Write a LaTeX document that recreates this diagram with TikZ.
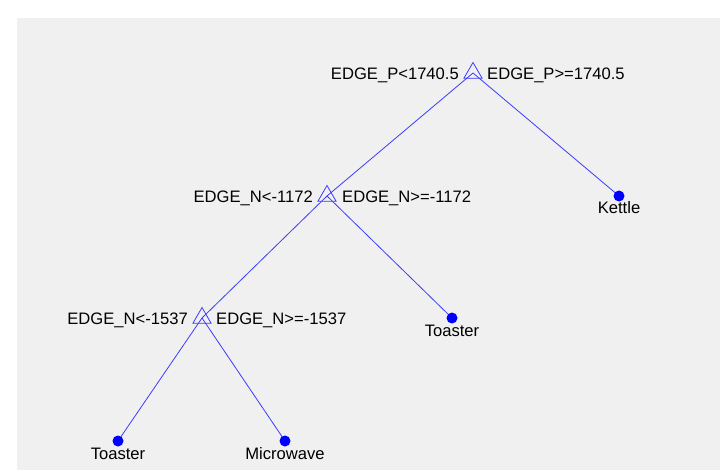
\documentclass[tikz,border=0pt]{standalone}
\usepackage{fontspec}
\setmainfont{Liberation Sans}
\usetikzlibrary{shapes.geometric}
\definecolor{figbg}{RGB}{240,240,240}
\definecolor{treeblue}{RGB}{60,60,255}
\tikzset{
  split/.style={draw=treeblue, line width=0.8pt, regular polygon, regular polygon sides=3,
                minimum size=21pt, inner sep=0pt},
  leaf/.style={circle, fill=blue, minimum size=11pt, inner sep=0pt},
  branch/.style={draw=treeblue, line width=0.8pt},
  rule/.style={font=\fontsize{16.6}{18}\selectfont, inner sep=0pt},
  leaflabel/.style={font=\fontsize{16.6}{18}\selectfont, inner sep=0pt, anchor=base}
}
\begin{document}
\begin{tikzpicture}[x=1pt,y=-1pt]
  \useasboundingbox (0,0) rectangle (720,470);
  \fill[figbg] (17,18) rectangle (720,470);

  % split points and leaves
  \coordinate (r) at (473,73);
  \coordinate (n1) at (327,196);
  \coordinate (n2) at (202,318);
  \coordinate (kettle) at (619,196);
  \coordinate (toaster1) at (452,318);
  \coordinate (toaster2) at (118,441);
  \coordinate (micro) at (285,441);

  % branches
  \draw[branch] (r) -- (n1);
  \draw[branch] (r) -- (kettle);
  \draw[branch] (n1) -- (n2);
  \draw[branch] (n1) -- (toaster1);
  \draw[branch] (n2) -- (toaster2);
  \draw[branch] (n2) -- (micro);

  % split markers
  \node[split] (rm) at (r) {};
  \node[split] (n1m) at (n1) {};
  \node[split] (n2m) at (n2) {};

  % leaf dots
  \node[leaf] (kd) at (kettle) {};
  \node[leaf] (t1d) at (toaster1) {};
  \node[leaf] (t2d) at (toaster2) {};
  \node[leaf] (md) at (micro) {};

  % split rules
  \node[rule, anchor=base east] (rl) at ([shift={(-14,6.5)}]r) {EDGE\_P<1740.5};
  \node[rule, anchor=base west] (rr) at ([shift={(14,6.5)}]r) {EDGE\_P>=1740.5};
  \node[rule, anchor=base east] (n1l) at ([shift={(-14,6.5)}]n1) {EDGE\_N<-1172};
  \node[rule, anchor=base west] (n1r) at ([shift={(15,6.5)}]n1) {EDGE\_N>=-1172};
  \node[rule, anchor=base east] (n2l) at ([shift={(-14,6.5)}]n2) {EDGE\_N<-1537};
  \node[rule, anchor=base west] (n2r) at ([shift={(14,6.5)}]n2) {EDGE\_N>=-1537};

  % class labels
  \node[leaflabel] (kl) at ([shift={(0,18)}]kettle) {Kettle};
  \node[leaflabel] (t1l) at ([shift={(0,18)}]toaster1) {Toaster};
  \node[leaflabel] (t2l) at ([shift={(0,18)}]toaster2) {Toaster};
  \node[leaflabel] (ml) at ([shift={(0,18)}]micro) {Microwave};
\end{tikzpicture}
\end{document}
